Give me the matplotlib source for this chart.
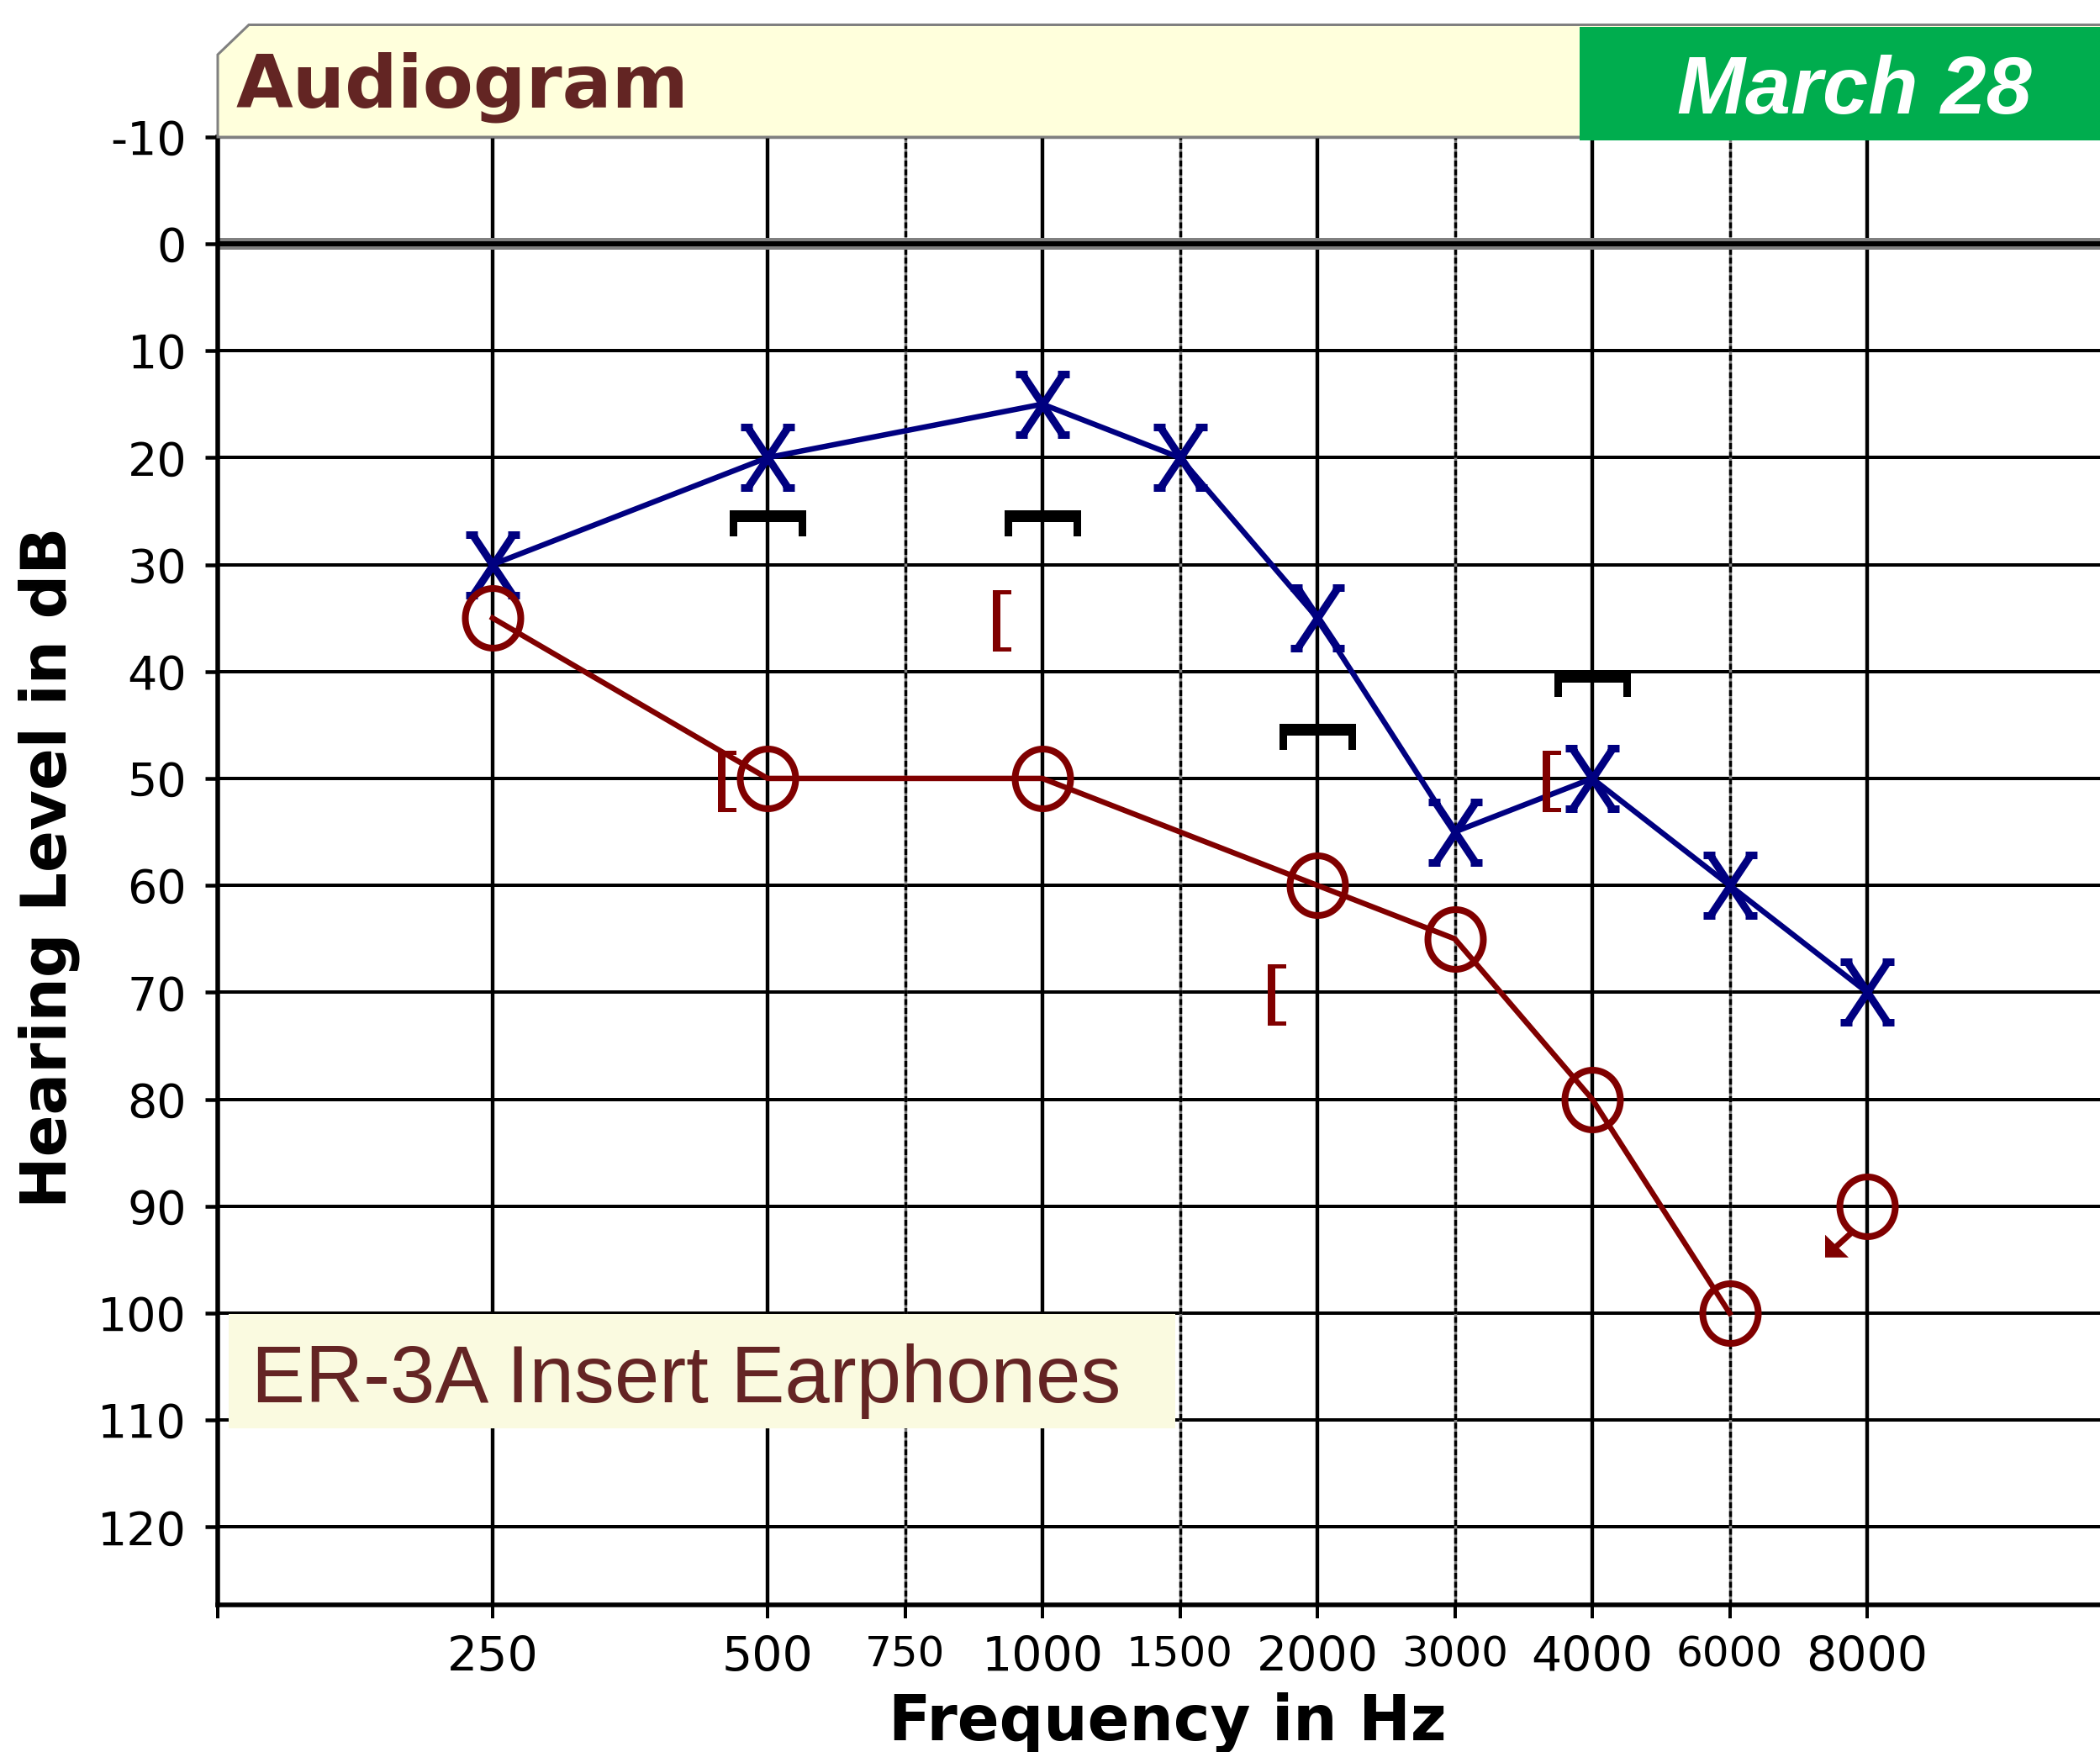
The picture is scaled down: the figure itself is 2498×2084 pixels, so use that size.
import numpy as np
import matplotlib
matplotlib.use("Agg")
import matplotlib.pyplot as plt
from matplotlib.path import Path
from matplotlib.patches import Rectangle, Polygon
import matplotlib.transforms as mtransforms

# ---------------- data ----------------
tick_freqs = [250, 500, 750, 1000, 1500, 2000, 3000, 4000, 6000, 8000]
tick_labels = ["250", "500", "750", "1000", "1500", "2000", "3000", "4000", "6000", "8000"]
half_octave_freqs = [750, 1500, 3000, 6000]
db_ticks = list(range(-10, 130, 10))

left_freqs = [250, 500, 1000, 1500, 2000, 3000, 4000, 6000, 8000]
left_air = [30, 20, 15, 20, 35, 55, 50, 60, 70]

right_freqs = [250, 500, 1000, 2000, 3000, 4000, 6000]
right_air = [35, 50, 50, 60, 65, 80, 100]

right_nr_freqs = [8000]
right_nr = [90]

masked_bc_freqs = [500, 1000, 2000, 4000]
masked_bc = [50, 35, 70, 50]

unmasked_bc_freqs = [500, 1000, 2000, 4000]
unmasked_bc = [25, 25, 45, 40]

# ---------------- figure ----------------
W, H = 2498, 2084
DPI = 100
plt.rcParams["font.family"] = ["DejaVu Sans"]
plt.rcParams["lines.scale_dashes"] = False

fig = plt.figure(figsize=(W / DPI, H / DPI), dpi=DPI)
fig.patch.set_facecolor("white")


def fx(x):
    return x / W


def fy(y):
    return 1 - y / H


def pt(px):
    return px * 72.0 / DPI


ax_left, ax_top, ax_bottom = 259, 162.7, 1908.6
ax = fig.add_axes([fx(ax_left), fy(ax_bottom), 1 - fx(ax_left), (ax_bottom - ax_top) / H])

# audiogram x scale: octaves evenly spaced, half-octaves halfway
anchor_f = np.array([125, 250, 500, 750, 1000, 1500, 2000, 3000, 4000, 6000, 8000, 16000], float)
anchor_p = np.array([-1, 0, 1, 1.5, 2, 2.5, 3, 3.5, 4, 4.5, 5, 6], float)


def fwd(f):
    f = np.clip(np.asarray(f, float), 1e-6, None)
    return np.interp(np.log2(f), np.log2(anchor_f), anchor_p)


def inv(p):
    return 2 ** np.interp(np.asarray(p, float), anchor_p, np.log2(anchor_f))


ax.set_xscale("function", functions=(fwd, inv))
octave_px = 327.0
right_pos = -1 + (W - ax_left) / octave_px
ax.set_xlim(125, float(inv(right_pos)))
ax.set_ylim(127.25, -10)

# spines
for s in ["top", "right"]:
    ax.spines[s].set_visible(False)
ax.spines["left"].set_linewidth(pt(5.5))
ax.spines["bottom"].set_linewidth(pt(5.5))
ax.spines["left"].set_zorder(6)
ax.spines["bottom"].set_zorder(6)

# grid
for d in db_ticks:
    if d == -10:
        ax.axhline(d, color="#808080", lw=pt(3.4), zorder=1)
    elif d == 0:
        ax.axhline(d, color="#808080", lw=pt(14), zorder=1.1)
        ax.axhline(d, color="black", lw=pt(6), zorder=1.2)
    else:
        ax.axhline(d, color="black", lw=pt(4), zorder=1)

for f in tick_freqs:
    if f in half_octave_freqs:
        ax.axvline(f, color="#808080", lw=pt(3.4), zorder=1)
        ax.axvline(f, color="black", lw=pt(3.4), ls=(0, (pt(7), pt(3.5))), zorder=1.05)
    else:
        ax.axvline(f, color="black", lw=pt(4.4), zorder=1)

# ticks
ax.set_yticks(db_ticks)
ax.set_yticklabels([str(d) for d in db_ticks])
ax.tick_params(axis="y", length=pt(15), width=pt(4.5), pad=pt(22), labelsize=40)
ax.set_xticks([125] + tick_freqs)
ax.set_xticklabels([""] + tick_labels)
ax.tick_params(axis="x", length=pt(16), width=pt(4), pad=pt(20), labelsize=41)
ax.minorticks_off()
for lab, f in zip(ax.get_xticklabels()[1:], tick_freqs):
    if f in half_octave_freqs:
        lab.set_fontsize(36)

# ---------------- markers ----------------
# X (left air conduction)
x_verts = [(-24, 36), (24, -36), (-24, -36), (24, 36),
           (-32, 36), (-18, 36), (18, 36), (32, 36),
           (-32, -36), (-18, -36), (18, -36), (32, -36)]
x_codes = [Path.MOVETO, Path.LINETO] * 6
x_marker = Path(x_verts, x_codes)
x_ms = pt(72)

# O (right air conduction), slightly elliptic
th = np.linspace(0, 2 * np.pi, 73)
o_marker = Path(np.column_stack([33 * np.cos(th), 35.5 * np.sin(th)]), closed=True)
o_ms = pt(71)

# [ (masked bone conduction), placed to the left of the frequency
b_verts = [(-59, 33), (-37, 33), (-37, 28.5), (-50, 28.5), (-50, -35),
           (-37, -35), (-37, -39.5), (-59, -39.5), (-59, 33)]
b_marker = Path(b_verts, closed=True)
b_ms = pt(118)

# unmasked bone conduction bracket (opening downward)
u_verts = [(-45.5, 1.5), (45.5, 1.5), (45.5, -30), (36.5, -30), (36.5, -12.5),
           (-36.5, -12.5), (-36.5, -30), (-45.5, -30), (-45.5, 1.5)]
u_marker = Path(u_verts, closed=True)
u_ms = pt(91)

navy = "#000080"
maroon = "#800000"

ax.plot(left_freqs, left_air, color=navy, lw=pt(6.5), zorder=4, solid_capstyle="butt")
ax.plot(left_freqs, left_air, ls="none", marker=x_marker, ms=x_ms, mec=navy,
        mfc="none", mew=pt(9), zorder=5)

ax.plot(right_freqs, right_air, color=maroon, lw=pt(6.5), zorder=4)
ax.plot(right_freqs + right_nr_freqs, right_air + right_nr, ls="none", marker=o_marker,
        ms=o_ms, mec=maroon, mfc="none", mew=pt(8), zorder=5)

ax.plot(masked_bc_freqs, masked_bc, ls="none", marker=b_marker, ms=b_ms,
        mfc=maroon, mec="none", mew=0, zorder=5)
ax.plot(unmasked_bc_freqs, unmasked_bc, ls="none", marker=u_marker, ms=u_ms,
        mfc="black", mec="none", mew=0, zorder=5)

# no-response arrow at 8000 Hz
for f, v in zip(right_nr_freqs, right_nr):
    tr = fig.dpi_scale_trans + mtransforms.ScaledTranslation(f, v, ax.transData)
    sx, sy = -18 / DPI, -31 / DPI
    tx, ty = -50 / DPI, -61 / DPI
    ax.plot([sx, tx + 10 / DPI], [sy, ty + 10 / DPI], color=maroon, lw=pt(7),
            transform=tr, zorder=5, solid_capstyle="butt")
    ax.add_patch(Polygon([(tx, ty), (tx + 28 / DPI, ty), (tx, ty + 27 / DPI)],
                         closed=True, facecolor=maroon, edgecolor="none",
                         transform=tr, zorder=5))

# ---------------- header band ----------------
band = Polygon([(fx(259), fy(163)), (fx(259), fy(65)), (fx(296), fy(29.5)),
                (fx(W + 5), fy(29.5)), (fx(W + 5), fy(163))],
               closed=True, facecolor="#FFFFDC", edgecolor="#808080",
               lw=pt(3), transform=fig.transFigure, zorder=2)
fig.patches.append(band)
green = Rectangle((fx(1879), fy(167)), fx(W) - fx(1879), fy(31.5) - fy(167),
                  facecolor="#00AD4E", edgecolor="none", transform=fig.transFigure, zorder=3)
fig.patches.append(green)

fig.text(fx(281), fy(128), "Audiogram", ha="left", va="baseline", fontsize=63,
         fontweight="bold", color="#632523", zorder=4)
fig.text(fx(2206), fy(135), "March 28", ha="center", va="baseline", fontsize=70,
         family=["Liberation Sans", "DejaVu Sans"], fontweight="bold", fontstyle="italic",
         color="white", zorder=4)

# ---------------- equipment box ----------------
ax.add_patch(Rectangle((fx(272), fy(1698.5)), fx(1398) - fx(272), fy(1562.6) - fy(1698.5),
                       facecolor="#FAFAE0", edgecolor="none",
                       transform=fig.transFigure, zorder=3))
ax.text(fx(299), fy(1667.6), "ER-3A Insert Earphones", transform=fig.transFigure,
        ha="left", va="baseline", fontsize=69, family=["Liberation Sans", "DejaVu Sans"],
        color="#642424", zorder=3.5)

# ---------------- axis labels ----------------
fig.text(fx(1389), fy(2070), "Frequency in Hz", ha="center", va="baseline",
         fontsize=53, fontweight="bold", color="black")
fig.text(fx(79), fy(1032), "Hearing Level in dB", ha="center", va="baseline",
         rotation=90, rotation_mode="anchor", fontsize=53, fontweight="bold", color="black")

fig.savefig("out.png", dpi=DPI)
